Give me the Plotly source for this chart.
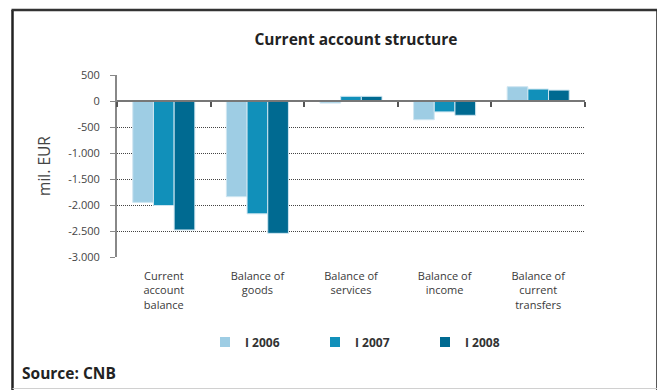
import plotly.graph_objects as go

categories = ["Current<br>account<br>balance", "Balance of<br>goods", "Balance of<br>services",
              "Balance of<br>income", "Balance of<br>current<br>transfers"]
series_names = ["I 2006", "I 2007", "I 2008"]
v2006 = [-1950, -1840, -40, -360, 275]
v2007 = [-2010, -2170, 90, -210, 230]
v2008 = [-2480, -2545, 90, -275, 210]
tick_vals = [500, 0, -500, -1000, -1500, -2000, -2500, -3000]
tick_text = ["500", "0", "-500", "-1.000", "-1.500", "-2.000", "-2.500", "-3.000"]
colors = ["#9ecde4", "#1190ba", "#006a91"]

# the page body has an 8px default margin; work in page pixels and compensate
OFF = 8
PW, PH = 665, 390
W, H = PW - OFF, PH - OFF
L, R, T, B = 117, 585, 75, 257   # plot area in page pixels
FONT = "Open Sans"

fig = go.Figure()
for name, vals, c in zip(series_names, [v2006, v2007, v2008], colors):
    fig.add_trace(go.Bar(x=categories, y=vals, name=name, showlegend=False,
                         marker=dict(color=c, line=dict(color="#cfe6f1", width=1))))
# legend entries (small square swatches)
for name, c in zip(series_names, colors):
    fig.add_trace(go.Scatter(x=[None], y=[None], mode="markers", name="<b>" + name + "</b>",
                             marker=dict(symbol="square", size=10, color=c, line=dict(width=0))))

# invisible trace for the zero-line category axis
fig.add_trace(go.Scatter(x=categories, y=[None]*len(categories), xaxis="x2", showlegend=False, hoverinfo="skip"))

def px_x(p):
    return (p - L) / (R - L)

def px_y(p):
    return (B - p) / (B - T)

ymin, ymax = -3000, 500
zero_pos = (0 - ymin) / (ymax - ymin)

shapes = [
    dict(type="rect", xref="paper", yref="paper", x0=px_x(659), x1=px_x(668), y0=px_y(395), y1=px_y(23),
         fillcolor="#a8a8a8", line=dict(width=0), layer="below"),
    dict(type="line", xref="paper", yref="paper", x0=px_x(12.5), x1=px_x(12.5), y0=px_y(10), y1=px_y(395),
         line=dict(color="#222", width=2.5)),
    dict(type="line", xref="paper", yref="paper", x0=px_x(11.5), x1=px_x(658.5), y0=px_y(10), y1=px_y(10),
         line=dict(color="#333", width=2.5)),
    dict(type="line", xref="paper", yref="paper", x0=px_x(657.5), x1=px_x(657.5), y0=px_y(10), y1=px_y(395),
         line=dict(color="#222", width=2.5)),
    dict(type="line", xref="paper", yref="paper", x0=px_x(12.5), x1=px_x(657.5), y0=px_y(388.5), y1=px_y(388.5),
         line=dict(color="#d0d0d0", width=1)),
]

fig.update_layout(
    width=W, height=H,
    margin=dict(l=L - OFF, r=PW - R, t=T - OFF, b=PH - B, pad=0),
    paper_bgcolor="white", plot_bgcolor="white",
    font=dict(family=FONT, color="#444"),
    separators=",.",
    barmode="group", bargap=0.337, bargroupgap=0,
    title=dict(text="<b>Current account structure</b>", x=(356 - OFF) / W, xanchor="center", xref="container",
               y=1 - (40 - OFF) / H, yanchor="middle", yref="container",
               font=dict(size=15.5, color="#222", family=FONT), automargin=False),
    xaxis=dict(type="category", categoryarray=categories, range=[-0.5, 4.5], showline=False, showgrid=False,
               ticks="", ticklabelstandoff=11, tickfont=dict(size=11, color="#3a3a3a"), automargin=False),
    xaxis2=dict(type="category", categoryarray=categories, range=[-0.5, 4.5], overlaying="x", anchor="free",
                position=zero_pos, side="bottom", showline=True, linecolor="#777", linewidth=2,
                ticks="outside", tickson="boundaries", ticklen=5, tickwidth=1.5, tickcolor="#555",
                showticklabels=False, showgrid=False, automargin=False),
    yaxis=dict(range=[ymin, ymax], tickvals=tick_vals, ticktext=tick_text, showgrid=True, gridcolor="#444",
               griddash="1px,1px", gridwidth=1, zeroline=False, showline=True, linecolor="#888", linewidth=2,
               ticks="outside", ticklen=5, tickcolor="#888", ticklabelstandoff=8,
               tickfont=dict(size=11, color="#444"), automargin=False,
               title=dict(text="mil. EUR", font=dict(size=15.5, color="#444"), standoff=14)),
    legend=dict(orientation="h", x=px_x(205), y=px_y(342), xanchor="left", yanchor="middle",
                entrywidth=65, entrywidthmode="pixels", itemwidth=30,
                font=dict(size=12, color="#333", family=FONT), traceorder="normal"),
    shapes=shapes,
    annotations=[dict(text="<b>Source: CNB</b>", xref="paper", yref="paper", x=px_x(20), y=px_y(373),
                      xanchor="left", yanchor="middle", showarrow=False, font=dict(size=15.5, color="#222"))],
    showlegend=True,
)

fig.write_html("out.html")
